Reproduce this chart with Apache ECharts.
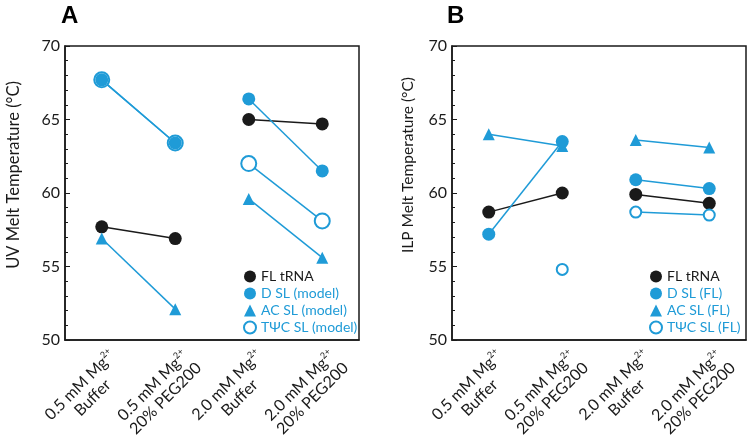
<!DOCTYPE html>
<html><head><meta charset="utf-8">
<script src="https://cdn.jsdelivr.net/npm/echarts@6/dist/echarts.min.js"></script>
<style>html,body{margin:0;padding:0;background:#fff}#c{width:754px;height:435px}</style>
</head><body><div id="c"></div>
<script>
// ---- data ----
const categories = ['0.5 mM Mg2+ Buffer', '0.5 mM Mg2+ 20% PEG200', '2.0 mM Mg2+ Buffer', '2.0 mM Mg2+ 20% PEG200'];
const labelLine1 = ['0.5 mM Mg', '0.5 mM Mg', '2.0 mM Mg', '2.0 mM Mg'];
const labelSup = ['2+', '2+', '2+', '2+'];
const labelLine2 = ['Buffer', '20% PEG200', 'Buffer', '20% PEG200'];
const yMin = 50, yMax = 70, yStep = 5;

// Panel A: UV melt temperature (°C)
const uvFL  = [57.7, 56.9, 65.0, 64.7];
const uvD   = [67.7, 63.4, 66.4, 61.5];
const uvAC  = [56.9, 52.1, 59.6, 55.6];
const uvTPC = [67.7, 63.4, 62.0, 58.1];
// Panel B: ILP melt temperature (°C)
const ilpFL  = [58.7, 60.0, 59.9, 59.3];
const ilpD   = [57.2, 63.5, 60.9, 60.3];
const ilpAC  = [64.0, 63.2, 63.6, 63.1];
const ilpTPC = [null, 54.8, 58.7, 58.5];

const namesA = ['FL tRNA', 'D SL (model)', 'AC SL (model)', 'TΨC SL (model)'];
const namesB = ['FL tRNA', 'D SL (FL)', 'AC SL (FL)', 'TΨC SL (FL)'];

// ---- style ----
const BLUE = '#1f9bd7', BLACK = '#1a1a1a';
const FONT = 'Lato';

function seg(arr, s) {
  return arr.map((v, i) => (Math.floor(i / 2) === s && v != null) ? v : '-');
}
function mk(name, arr, g, symbol, size, color) {
  const out = [];
  for (let s = 0; s < 2; s++) {
    out.push({
      type: 'line', name: name, xAxisIndex: g, yAxisIndex: g,
      data: seg(arr, s), symbol: symbol, symbolSize: size,
      connectNulls: false, animation: false,
      lineStyle: {color: color, width: 1.5},
      itemStyle: {color: color, borderWidth: symbol === 'emptyCircle' ? 1.5 : 0, borderColor: color}
    });
  }
  return out;
}

function xAxis(g) {
  return {
    type: 'category', gridIndex: g, data: categories, boundaryGap: true,
    axisLine: {show: true, lineStyle: {color: BLACK, width: 1.5}},
    axisTick: {show: false},
    axisLabel: {
      interval: 0, rotate: 45, margin: 2, color: BLACK, verticalAlign: 'top', padding: [6, 0, 0, 0],
      formatter: (v, i) => `{a|${labelLine1[i]}}{s|${labelSup[i]}}\n{a|${labelLine2[i]}}`,
      rich: {
        a: {fontFamily: FONT, fontSize: 16, color: BLACK, align: 'center', lineHeight: 18},
        s: {fontFamily: FONT, fontSize: 9, color: BLACK, align: 'center', verticalAlign: 'top', lineHeight: 18}
      }
    },
    splitLine: {show: false}
  };
}
function yAxis(g, name, gap, fs, pad) {
  return {
    type: 'value', gridIndex: g, min: yMin, max: yMax, interval: yStep,
    name: name, nameLocation: 'middle', nameGap: gap,
    nameTextStyle: {fontFamily: FONT, fontSize: fs, color: BLACK, padding: [0, 0, 0, pad]},
    axisLine: {show: true, lineStyle: {color: BLACK, width: 1.5}},
    axisTick: {show: true, inside: true, length: 5, lineStyle: {color: BLACK, width: 1}},
    minorTick: {show: true, splitNumber: 5, length: 3, lineStyle: {color: BLACK, width: 1}},
    axisLabel: {fontFamily: FONT, fontSize: 16, color: BLACK, margin: 5},
    splitLine: {show: false}
  };
}
function legend(names, left) {
  const icons = ['circle', 'circle', 'triangle', 'emptyCircle'];
  return {
    orient: 'vertical', left: left, top: 268, itemWidth: 12, itemHeight: 12, itemGap: 0,
    padding: 0, selectedMode: false,
    data: names.map((n, i) => ({
      name: n, icon: icons[i],
      itemStyle: i === 3 ? {color: BLUE, borderColor: BLUE, borderWidth: 1.5} : {color: i === 0 ? BLACK : BLUE, borderWidth: 0},
      textStyle: {color: i === 0 ? BLACK : BLUE, fontFamily: FONT, fontSize: 14, lineHeight: 17, padding: [0, 0, 0, 0]}
    }))
  };
}

const series = [].concat(
  mk(namesA[0], uvFL, 0, 'circle', 13, BLACK),
  mk(namesA[3], uvTPC, 0, 'emptyCircle', 15, BLUE),
  mk(namesA[2], uvAC, 0, 'triangle', 12, BLUE),
  mk(namesA[1], uvD, 0, 'circle', 13, BLUE),
  mk(namesB[0], ilpFL, 1, 'circle', 13, BLACK),
  mk(namesB[3], ilpTPC, 1, 'emptyCircle', 11, BLUE),
  mk(namesB[2], ilpAC, 1, 'triangle', 12, BLUE),
  mk(namesB[1], ilpD, 1, 'circle', 13, BLUE)
);

const chart = echarts.init(document.getElementById('c'), null, {renderer: 'canvas'});
chart.setOption({
  animation: false,
  backgroundColor: '#fff',
  title: [
    {text: 'A', left: 61, top: 4, padding: 0, textStyle: {fontFamily: 'Liberation Sans', fontSize: 24, fontWeight: 'bold', color: '#000'}},
    {text: 'B', left: 447, top: 4, padding: 0, textStyle: {fontFamily: 'Liberation Sans', fontSize: 24, fontWeight: 'bold', color: '#000'}}
  ],
  grid: [
    {left: 65, top: 46, width: 294, height: 294, show: true, borderColor: BLACK, borderWidth: 1.5, backgroundColor: 'transparent', outerBoundsMode: 'none', containLabel: false},
    {left: 452, top: 46, width: 294, height: 294, show: true, borderColor: BLACK, borderWidth: 1.5, backgroundColor: 'transparent', outerBoundsMode: 'none', containLabel: false}
  ],
  xAxis: [xAxis(0), xAxis(1)],
  yAxis: [yAxis(0, 'UV Melt Temperature (°C)', 43, 16.5, 36), yAxis(1, 'ILP Melt Temperature (°C)', 36, 15.5, 56)],
  legend: [legend(namesA, 243), legend(namesB, 649)],
  series: series
});
</script>
</body></html>
